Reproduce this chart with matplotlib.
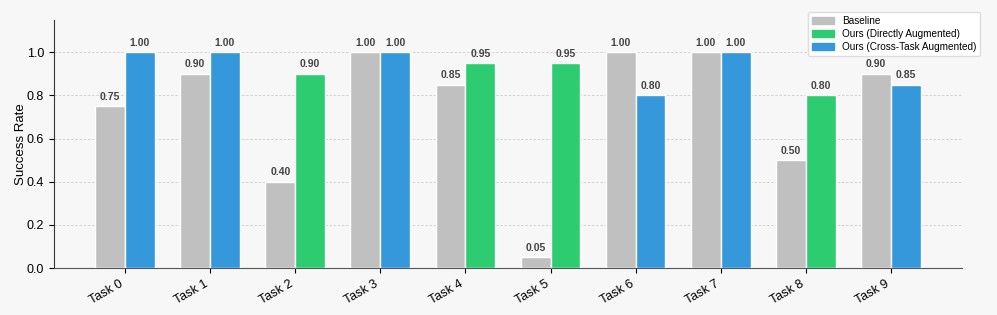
import numpy as np
import matplotlib.pyplot as plt
from matplotlib.patches import Patch

plt.rcParams['font.family'] = ['Liberation Sans', 'DejaVu Sans']

tasks = ['Task 0', 'Task 1', 'Task 2', 'Task 3', 'Task 4',
         'Task 5', 'Task 6', 'Task 7', 'Task 8', 'Task 9']
baseline = [0.75, 0.90, 0.40, 1.00, 0.85, 0.05, 1.00, 1.00, 0.50, 0.90]
ours = [1.00, 1.00, 0.90, 1.00, 0.95, 0.95, 0.80, 1.00, 0.80, 0.85]
# which variant of ours was used for each task
ours_kind = ['cross', 'cross', 'direct', 'cross', 'direct',
             'direct', 'cross', 'cross', 'direct', 'cross']

grey = '#c0c0c0'
green = '#2ecc71'
blue = '#3498db'
bg = '#f7f7f7'

fig, ax = plt.subplots(figsize=(9.97, 3.15), dpi=100)
fig.patch.set_facecolor(bg)
ax.set_facecolor(bg)
fig.subplots_adjust(left=0.054, right=0.965, top=0.937, bottom=0.149)

x = np.arange(len(tasks))
w = 0.35
b1 = ax.bar(x - w / 2, baseline, w, color=grey, edgecolor='white', linewidth=1, zorder=3)
cols = [blue if k == 'cross' else green for k in ours_kind]
b2 = ax.bar(x + w / 2, ours, w, color=cols, edgecolor='white', linewidth=1, zorder=3)

for bars in (b1, b2):
    for r in bars:
        h = r.get_height()
        ax.text(r.get_x() + r.get_width() / 2, h + 0.02, f'{h:.2f}',
                ha='center', va='bottom', fontsize=7.5, fontweight='bold', color='#444444')

ax.set_ylim(0, 1.15)
ax.set_yticks([0, 0.2, 0.4, 0.6, 0.8, 1.0])
ax.set_ylabel('Success Rate', fontsize=9.5, labelpad=0)
ax.set_xticks(x)
ax.set_xticklabels(tasks, rotation=30, ha='right', fontsize=9)
ax.tick_params(axis='y', labelsize=9)
ax.grid(axis='y', linestyle=(0, (3, 2)), color='#cccccc', linewidth=0.6, zorder=0)
ax.spines['top'].set_visible(False)
ax.spines['right'].set_visible(False)
ax.spines['left'].set_color('#333333')
ax.spines['bottom'].set_color('#555555')

handles = [Patch(color=grey, label='Baseline'),
           Patch(color=green, label='Ours (Directly Augmented)'),
           Patch(color=blue, label='Ours (Cross-Task Augmented)')]
fig.legend(handles=handles, loc='upper right', bbox_to_anchor=(0.988, 0.978),
           fontsize=7.2, framealpha=1, facecolor='white', edgecolor='#dddddd',
           labelspacing=0.3, borderpad=0.4, handlelength=2.2)

fig.savefig('out.png', dpi=100, facecolor=bg)
